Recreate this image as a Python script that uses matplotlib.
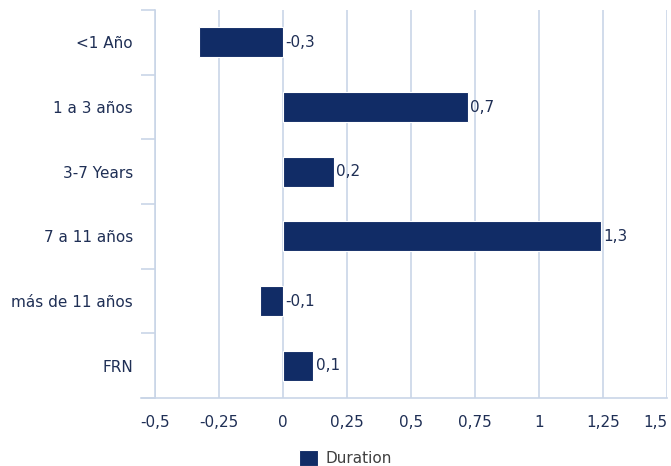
import numpy as np
import matplotlib.pyplot as plt

categories = ['<1 Año', '1 a 3 años', '3-7 Years', '7 a 11 años', 'más de 11 años', 'FRN']
duration = [-0.33, 0.723, 0.2, 1.243, -0.088, 0.119]
value_labels = ['-0,3', '0,7', '0,2', '1,3', '-0,1', '0,1']
xticks = [-0.5, -0.25, 0, 0.25, 0.5, 0.75, 1, 1.25, 1.5]
xtick_labels = ['-0,5', '-0,25', '0', '0,25', '0,5', '0,75', '1', '1,25', '1,5']

navy = '#112c66'
text_col = '#1f2f55'
grid_col = '#c9d5e7'
fs = 11

plt.rcParams['font.family'] = 'DejaVu Sans'
fig = plt.figure(figsize=(6.71, 4.66), dpi=100)
ax = fig.add_axes([155 / 671, 1 - 398 / 466, 512 / 671, 388 / 466])

y = np.arange(len(categories))
ax.barh(y, duration, height=0.46, color=navy, edgecolor='white', linewidth=0.8,
        zorder=3, label='Duration')

# value labels sit at the bar end (or at zero for negative bars)
for yi, v, lab in zip(y, duration, value_labels):
    ax.text(max(v, 0) + 0.008, yi, lab, va='center', ha='left',
            fontsize=fs, color=text_col, zorder=4)

ax.set_xlim(-0.5, 1.5)
ax.set_ylim(len(categories) - 0.5, -0.5)
ax.set_xticks(xticks)
ax.set_xticklabels(xtick_labels, fontsize=fs, color=text_col)
ax.get_xticklabels()[-1].set_ha('right')
ax.set_yticks(y)
ax.set_yticklabels(categories, fontsize=fs, color=text_col)
ax.set_yticks(np.arange(-0.5, len(categories)), minor=True)
ax.tick_params(axis='y', which='major', length=0, pad=16)
ax.tick_params(axis='y', which='minor', length=10, color=grid_col, width=1.2)
ax.tick_params(axis='x', length=0, pad=12)

ax.grid(axis='x', color=grid_col, linewidth=1.2, zorder=0)
for s in ['top', 'right']:
    ax.spines[s].set_visible(False)
ax.spines['left'].set_color(grid_col)
ax.spines['left'].set_linewidth(1.2)
ax.spines['bottom'].set_color(grid_col)
ax.spines['bottom'].set_linewidth(1.2)
ax.spines['bottom'].set_bounds(-0.555, 1.5)

leg = fig.legend(loc='center', bbox_to_anchor=(0.515, 1 - 458 / 466), frameon=False,
                 fontsize=fs, handlelength=1.2, handleheight=1.2, handletextpad=0.5)
for t in leg.get_texts():
    t.set_color('#404040')

fig.savefig('out.png', dpi=100)
